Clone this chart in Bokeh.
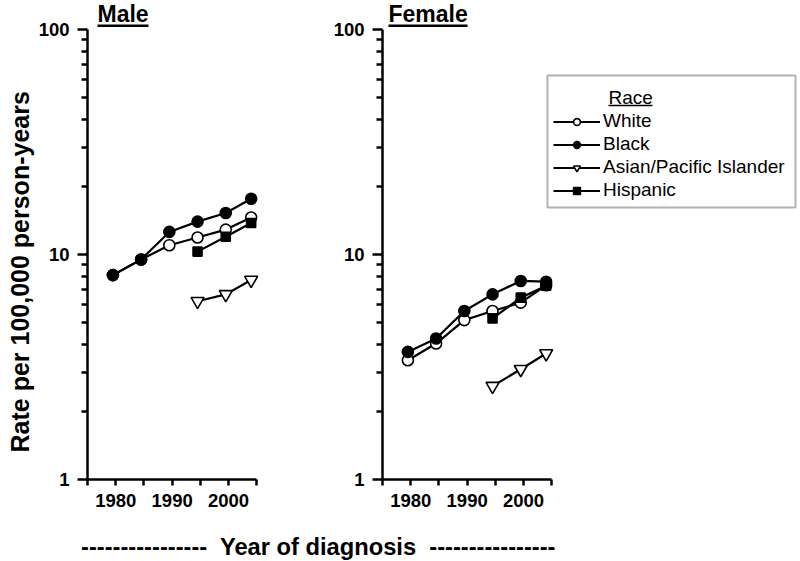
from bokeh.plotting import figure
from bokeh.models import (Range1d, FixedTicker, BasicTickFormatter, Label, Title,
                          BoxAnnotation, Legend, LegendItem, Div)
from bokeh.layouts import row, column
from bokeh.embed import file_html
from bokeh.resources import INLINE

# ---------------- data ----------------
years = [1979.5, 1984.5, 1989.5, 1994.5, 1999.5, 2004.0]
years_recent = [1994.5, 1999.5, 2004.0]

male_white = [8.1, 9.5, 11.0, 11.9, 12.9, 14.6]
male_black = [8.1, 9.5, 12.6, 14.0, 15.3, 17.7]
male_asian = [6.2, 6.65, 7.7]
male_hispanic = [10.3, 12.0, 13.8]

female_white = [3.39, 4.02, 5.11, 5.61, 6.11, 7.3]
female_black = [3.69, 4.23, 5.61, 6.65, 7.63, 7.57]
female_asian = [2.60, 3.09, 3.63]
female_hispanic = [5.2, 6.43, 7.27]

race_names = ["White", "Black", "Asian/Pacific Islander", "Hispanic"]
panel_titles = ["Male", "Female"]
x_ticks = [1980, 1990, 2000]
x_minor_ticks = [1975, 1985, 1995, 2005]
y_ticks = [1, 10, 100]
y_minor_ticks = [2, 3, 4, 5, 6, 7, 8, 9, 20, 30, 40, 50, 60, 70, 80, 90]
y_label = "Rate per 100,000 person-years"
x_label = "----------------  Year of diagnosis  ----------------"
legend_title = "Race"

# ---------------- layout constants ----------------
FONT = "Liberation Sans"
X0, X1 = 1975, 2005
PX_PER_YEAR = 169.3 / 30.0
PX_PER_DECADE = 225.0
BORDER_BOTTOM = 42
FRAME_H = 479            # frame from page y 0 to 479 (y = 1)
FIG_H = FRAME_H + BORDER_BOTTOM
W1, W2 = 300, 500

styles = {
    "White": dict(marker="circle", fill_color="white", size=11),
    "Black": dict(marker="circle", fill_color="black", size=11),
    "Asian/Pacific Islander": dict(marker="inverted_triangle", fill_color="white", size=13),
    "Hispanic": dict(marker="square", fill_color="black", size=9),
}


def sbox(p, left, right, top, bottom, **kw):
    p.add_layout(BoxAnnotation(left=left, right=right, top=top, bottom=bottom,
                               left_units="screen", right_units="screen",
                               top_units="screen", bottom_units="screen", **kw))


def make_panel(title, series, width, border_left, title_dx, title_w):
    frame_w = width - border_left
    p = figure(width=width, height=FIG_H,
               x_range=Range1d(X0, X0 + frame_w / PX_PER_YEAR),
               y_range=Range1d(1, 10 ** (FRAME_H / PX_PER_DECADE)),
               y_axis_type="log", output_backend="svg", toolbar_location=None,
               min_border_left=border_left, min_border_right=0,
               min_border_top=0, min_border_bottom=BORDER_BOTTOM)
    p.outline_line_color = None
    p.grid.visible = False
    p.background_fill_color = "white"
    p.border_fill_color = "white"

    xa = p.xaxis[0]
    xa.ticker = FixedTicker(ticks=x_ticks, minor_ticks=x_minor_ticks)
    xa.bounds = (X0, X1)
    ya = p.yaxis[0]
    ya.ticker = FixedTicker(ticks=y_ticks, minor_ticks=y_minor_ticks)
    ya.formatter = BasicTickFormatter(use_scientific=False)
    ya.bounds = (1, 100)
    for ax in (xa, ya):
        ax.axis_line_width = 2.5
        ax.axis_line_color = "black"
        ax.major_tick_line_width = 2.5
        ax.minor_tick_line_width = 2.5
        ax.major_tick_line_color = "black"
        ax.minor_tick_line_color = "black"
        ax.major_tick_in = 0
        ax.minor_tick_in = 0
        ax.major_label_text_font = FONT
        ax.major_label_text_font_style = "bold"
        ax.major_label_text_font_size = "18.5px"
        ax.major_label_text_color = "black"
        ax.major_label_standoff = 8
    xa.major_tick_out = 6
    xa.minor_tick_out = 6
    ya.major_tick_out = 10
    ya.minor_tick_out = 6

    rends = {}
    for name, (xs, ys) in series.items():
        st = styles[name]
        lr = p.line(xs, ys, line_color="black", line_width=2.2)
        sr = p.scatter(xs, ys, marker=st["marker"], size=st["size"],
                       fill_color=st["fill_color"], line_color="black", line_width=1.6)
        rends[name] = (lr, sr)

    # underlined panel title (page y: cap middle 13, underline 24..26.5)
    p.add_layout(Label(x=title_dx, y=FRAME_H - 13, x_units="screen", y_units="screen",
                       text=title, text_font=FONT, text_font_style="bold",
                       text_font_size="23px", text_baseline="middle",
                       text_color="black"))
    sbox(p, title_dx, title_dx + title_w, FRAME_H - 24, FRAME_H - 26.5,
         fill_color="black", fill_alpha=1, line_alpha=0)
    return p, rends


male_series = {
    "White": (years, male_white),
    "Black": (years, male_black),
    "Asian/Pacific Islander": (years_recent, male_asian),
    "Hispanic": (years_recent, male_hispanic),
}
female_series = {
    "White": (years, female_white),
    "Black": (years, female_black),
    "Asian/Pacific Islander": (years_recent, female_asian),
    "Hispanic": (years_recent, female_hispanic),
}

p1, _ = make_panel(panel_titles[0], male_series, W1, 87, 10, 51)
p2, rends2 = make_panel(panel_titles[1], female_series, W2, 382 - W1, 6, 79)

# y axis label on the left panel
p1.add_layout(Title(text=y_label, align="left", offset=27, text_font=FONT,
                    text_font_style="bold", text_font_size="25px",
                    text_color="black", standoff=3), "left")

# legend on the right panel (frame left at page x 382, bottom at page y 479)
fl, fb = 382, FRAME_H
items = [LegendItem(label=n, renderers=list(rends2[n])) for n in race_names]
legend = Legend(items=items, location=(553 - fl, fb - 201), padding=0, margin=0,
                spacing=1, glyph_width=47, glyph_height=17, label_height=21,
                label_standoff=3, label_text_font=FONT, label_text_font_size="19px",
                label_text_color="black", border_line_color=None,
                background_fill_alpha=0)
p2.add_layout(legend)
sbox(p2, 547 - fl, 795 - fl, fb - 75, fb - 207,
     fill_alpha=0, line_color="black", line_width=2)
p2.add_layout(Label(x=608 - fl, y=fb - 97.3, x_units="screen", y_units="screen",
                    text=legend_title, text_font=FONT, text_font_size="19px",
                    text_baseline="middle", text_color="black"))
sbox(p2, 608 - fl, 652 - fl, fb - 104.3, fb - 105.8,
     fill_color="black", fill_alpha=1, line_alpha=0)

div = Div(text=('<div style="margin-top:16px;margin-left:81px;line-height:20px;'
                'white-space:pre;font-family:\'Liberation Sans\';font-weight:bold;'
                'font-size:23.7px;color:black">' + x_label + '</div>'),
          width=800, height=561 - FIG_H, margin=0)

layout = column(row(p1, p2), div)
open("out.html", "w").write(file_html(layout, INLINE))
